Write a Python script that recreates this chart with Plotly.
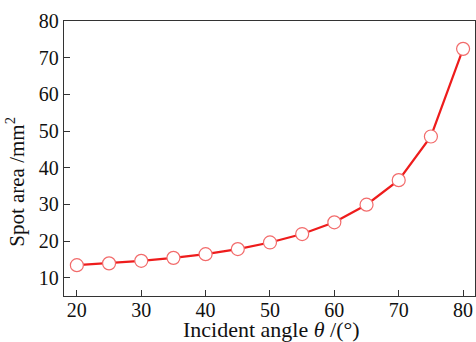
import plotly.graph_objects as go

angles = [20, 25, 30, 35, 40, 45, 50, 55, 60, 65, 70, 75, 80]
spot_area = [13.4, 13.9, 14.6, 15.4, 16.4, 17.8, 19.6, 21.9, 25.1, 29.9, 36.6, 48.5, 72.4]
x_ticks = [20, 30, 40, 50, 60, 70, 80]
y_ticks = [10, 20, 30, 40, 50, 60, 70, 80]

FONT = "Liberation Serif"

fig = go.Figure()
fig.add_trace(go.Scatter(
    x=angles, y=spot_area, mode="lines+markers",
    line=dict(color="#ee1c1c", width=2.2),
    marker=dict(symbol="circle", size=13, color="white",
                line=dict(color="#f26b6b", width=1.2)),
    showlegend=False,
))

axis_common = dict(
    showgrid=False, zeroline=False, showline=True, linecolor="#333333",
    linewidth=1.3, mirror=True, ticks="inside", ticklen=6, tickwidth=1,
    tickcolor="#333333", tickfont=dict(family=FONT, size=20, color="#111111"),
)

fig.update_xaxes(range=[18, 81.85], tickvals=x_ticks, ticklabelstandoff=-4, **axis_common)
fig.update_yaxes(range=[5, 80], tickvals=y_ticks, **axis_common)

fig.add_annotation(
    text="Incident angle <i>θ</i> /(°)", xref="paper", yref="paper",
    x=0.506, y=-0.173, xanchor="center", yanchor="bottom", showarrow=False,
    font=dict(family=FONT, size=22, color="#111111"),
)
fig.add_annotation(
    text="Spot area /mm<sup>2</sup>", xref="paper", yref="paper",
    x=-0.117, y=0.415, xanchor="center", yanchor="middle", textangle=-90,
    showarrow=False, font=dict(family=FONT, size=21, color="#111111"),
)

fig.update_layout(
    width=476, height=342,
    margin=dict(l=64, r=1, t=21, b=46),
    plot_bgcolor="white", paper_bgcolor="white",
)

fig.write_html("out.html")
